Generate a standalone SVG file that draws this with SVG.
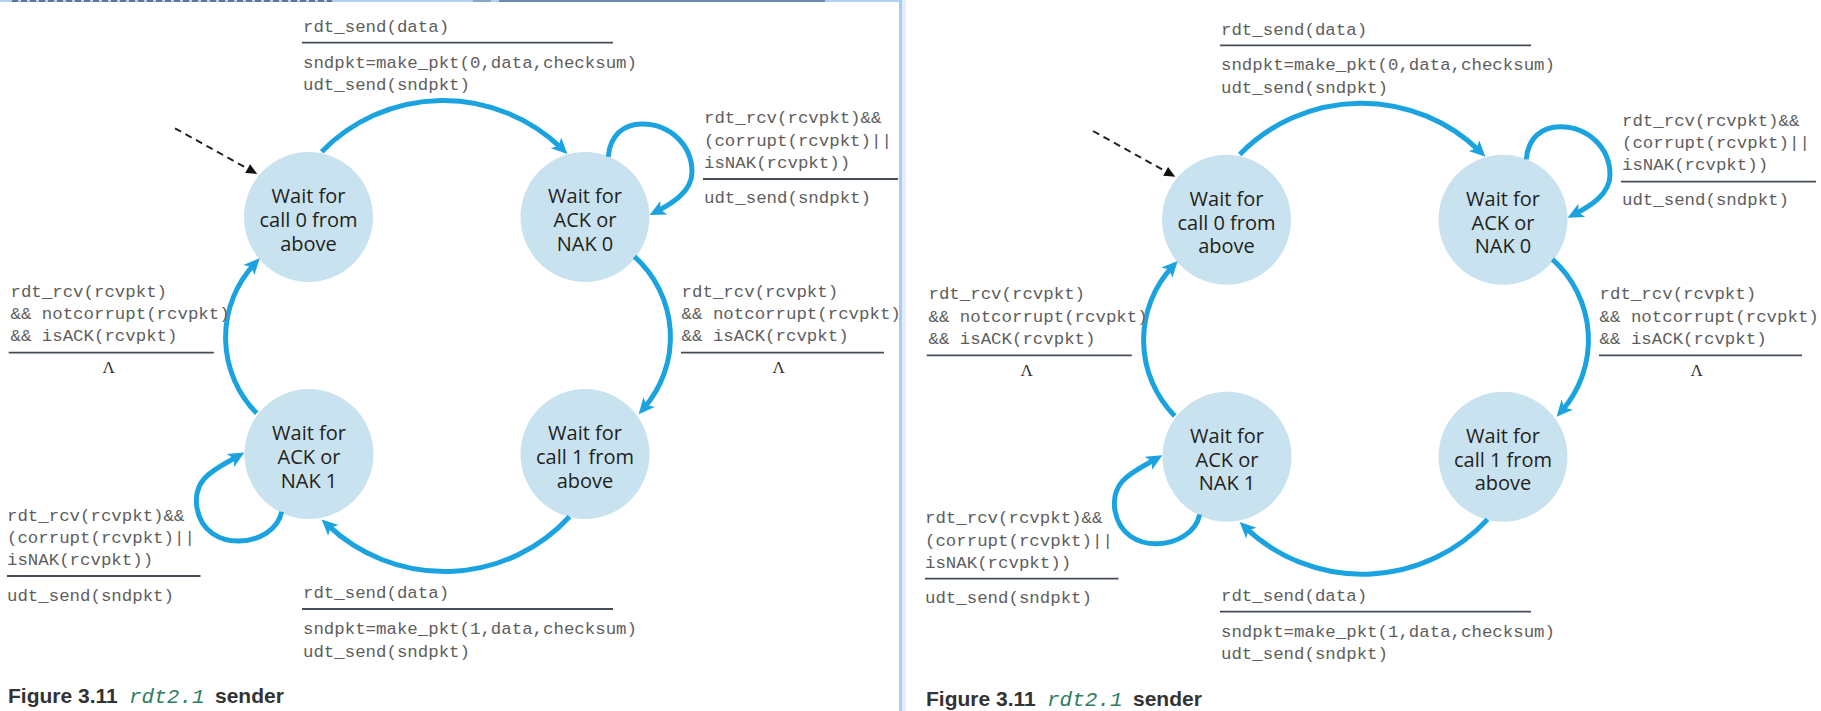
<svg xmlns="http://www.w3.org/2000/svg" width="1821" height="711" viewBox="0 0 1821 711">
<style>
.mono{font-family:"Liberation Mono",monospace;font-size:17.4px;fill:#5e5e5e}
.st{font-family:"Open Sans",sans-serif;font-size:20px;fill:#231f20;text-anchor:middle}
.node{fill:#c9e2ef}
.rule{stroke:#444c58;stroke-width:1.8}
.arc{fill:none;stroke:#1ba3e0;stroke-width:5}
.init{fill:none;stroke:#222;stroke-width:2;stroke-dasharray:7 5}
.lam{font-family:"Liberation Serif",serif;font-size:17px;fill:#333;text-anchor:middle}
.cap{font-family:"Liberation Sans",sans-serif;font-weight:bold;font-size:21px;fill:#333}
.capm{font-family:"Liberation Mono",monospace;font-style:italic;font-size:21px;fill:#2e7d60}
</style>
<defs>
<marker id="ah" markerUnits="userSpaceOnUse" markerWidth="17" markerHeight="15" refX="8" refY="7.5" orient="auto" overflow="visible"><path d="M0,0 L16,7.5 L0,15 L4,7.5 z" fill="#1ba3e0"/></marker>
<marker id="bh" markerUnits="userSpaceOnUse" markerWidth="12" markerHeight="10" refX="9" refY="5" orient="auto" overflow="visible"><path d="M0,0 L11,5 L0,10 z" fill="#111"/></marker>
</defs>
<rect width="1821" height="711" fill="#fff"/>
<g id="frame">
<rect x="0" y="0" width="902" height="2" fill="#b0d0f4"/>
<line x1="12" y1="1" x2="332" y2="1" stroke="#2b3a55" stroke-width="2" stroke-dasharray="6 3" opacity="0.6"/>
<rect x="473" y="0" width="18" height="2" fill="#8aa5c8"/>
<rect x="499" y="0" width="326" height="2" fill="#6c8ab0"/>
<rect x="899" y="0" width="3" height="711" fill="#aacbf2"/>
<rect x="902" y="0" width="4" height="711" fill="#e3eefb"/>
</g>

<g id="panel1">
<g id="p1-call0"><ellipse class="node" cx="308.5" cy="217" rx="64.5" ry="65"/><text class="st" x="308.5" y="203">Wait for</text><text class="st" x="308.5" y="227">call 0 from</text><text class="st" x="308.5" y="250.5">above</text></g>
<g id="p1-ack0"><ellipse class="node" cx="585" cy="217" rx="64.5" ry="65"/><text class="st" x="585" y="203">Wait for</text><text class="st" x="585" y="227">ACK or</text><text class="st" x="585" y="250.5">NAK 0</text></g>
<g id="p1-ack1"><ellipse class="node" cx="309" cy="454" rx="64.5" ry="65"/><text class="st" x="309" y="440">Wait for</text><text class="st" x="309" y="464">ACK or</text><text class="st" x="309" y="487.5">NAK 1</text></g>
<g id="p1-call1"><ellipse class="node" cx="585" cy="454" rx="64.5" ry="65"/><text class="st" x="585" y="440">Wait for</text><text class="st" x="585" y="464">call 1 from</text><text class="st" x="585" y="487.5">above</text></g>
<g id="p1-connectors">
<path class="init" d="M175,128.3 L255.5,173" marker-end="url(#bh)"/>
<path class="arc" d="M321.7,151.7 A170,170 0 0 1 561.7,148.4" marker-end="url(#ah)"/>
<path class="arc" d="M608.3,156.7 C610,135 624,124 642,124 C670,124 692,145 692,172 C692,192 671,204 656.7,211.4" marker-end="url(#ah)"/>
<path class="arc" d="M634.5,256.7 A108,108 0 0 1 643.9,408.1" marker-end="url(#ah)"/>
<path class="arc" d="M569.5,516.7 A170,170 0 0 1 327.5,524.9" marker-end="url(#ah)"/>
<path class="arc" d="M281.7,511.7 C274,548 205,555 197,508 C192,478 215.6,469 237.4,456.5" marker-end="url(#ah)"/>
<path class="arc" d="M256.7,413.3 A108,108 0 0 1 254.3,264.1" marker-end="url(#ah)"/>
</g>
<g id="p1-labels">
<text class="mono" x="303" y="32">rdt_send(data)</text>
<line class="rule" x1="302" y1="42.7" x2="613" y2="42.7"/>
<text class="mono" x="303" y="67.7">sndpkt=make_pkt(0,data,checksum)</text>
<text class="mono" x="303" y="90">udt_send(sndpkt)</text>

<text class="mono" x="704" y="123.3">rdt_rcv(rcvpkt)&amp;&amp;</text>
<text class="mono" x="704" y="145.7">(corrupt(rcvpkt)||</text>
<text class="mono" x="704" y="167.7">isNAK(rcvpkt))</text>
<line class="rule" x1="703" y1="179" x2="898" y2="179"/>
<text class="mono" x="704" y="202.7">udt_send(sndpkt)</text>

<text class="mono" x="681.6" y="296.7">rdt_rcv(rcvpkt)</text>
<text class="mono" x="681.6" y="319">&amp;&amp; notcorrupt(rcvpkt)</text>
<text class="mono" x="681.6" y="341.3">&amp;&amp; isACK(rcvpkt)</text>
<line class="rule" x1="681" y1="352.7" x2="884" y2="352.7"/>
<text class="lam" x="778.6" y="373">Λ</text>

<text class="mono" x="10.5" y="296.7">rdt_rcv(rcvpkt)</text>
<text class="mono" x="10.5" y="319">&amp;&amp; notcorrupt(rcvpkt)</text>
<text class="mono" x="10.5" y="341.3">&amp;&amp; isACK(rcvpkt)</text>
<line class="rule" x1="8.7" y1="352.7" x2="213.8" y2="352.7"/>
<text class="lam" x="108.7" y="373">Λ</text>

<text class="mono" x="7" y="520.7">rdt_rcv(rcvpkt)&amp;&amp;</text>
<text class="mono" x="7" y="543.3">(corrupt(rcvpkt)||</text>
<text class="mono" x="7" y="565">isNAK(rcvpkt))</text>
<line class="rule" x1="7" y1="576" x2="200.5" y2="576"/>
<text class="mono" x="7" y="600.7">udt_send(sndpkt)</text>

<text class="mono" x="303" y="598.3">rdt_send(data)</text>
<line class="rule" x1="302" y1="609" x2="613" y2="609"/>
<text class="mono" x="303" y="634">sndpkt=make_pkt(1,data,checksum)</text>
<text class="mono" x="303" y="656.7">udt_send(sndpkt)</text>

<text class="cap" x="8" y="703">Figure 3.11</text>
<text class="capm" x="129" y="703">rdt2.1</text>
<text class="cap" x="215" y="703">sender</text>
</g>
</g>

<g id="panel2" transform="translate(918,2.7)">
<g id="p2-call0"><ellipse class="node" cx="308.5" cy="217" rx="64.5" ry="65"/><text class="st" x="308.5" y="203">Wait for</text><text class="st" x="308.5" y="227">call 0 from</text><text class="st" x="308.5" y="250.5">above</text></g>
<g id="p2-ack0"><ellipse class="node" cx="585" cy="217" rx="64.5" ry="65"/><text class="st" x="585" y="203">Wait for</text><text class="st" x="585" y="227">ACK or</text><text class="st" x="585" y="250.5">NAK 0</text></g>
<g id="p2-ack1"><ellipse class="node" cx="309" cy="454" rx="64.5" ry="65"/><text class="st" x="309" y="440">Wait for</text><text class="st" x="309" y="464">ACK or</text><text class="st" x="309" y="487.5">NAK 1</text></g>
<g id="p2-call1"><ellipse class="node" cx="585" cy="454" rx="64.5" ry="65"/><text class="st" x="585" y="440">Wait for</text><text class="st" x="585" y="464">call 1 from</text><text class="st" x="585" y="487.5">above</text></g>
<g id="p2-connectors">
<path class="init" d="M175,128.3 L255.5,173" marker-end="url(#bh)"/>
<path class="arc" d="M321.7,151.7 A170,170 0 0 1 561.7,148.4" marker-end="url(#ah)"/>
<path class="arc" d="M608.3,156.7 C610,135 624,124 642,124 C670,124 692,145 692,172 C692,192 671,204 656.7,211.4" marker-end="url(#ah)"/>
<path class="arc" d="M634.5,256.7 A108,108 0 0 1 643.9,408.1" marker-end="url(#ah)"/>
<path class="arc" d="M569.5,516.7 A170,170 0 0 1 327.5,524.9" marker-end="url(#ah)"/>
<path class="arc" d="M281.7,511.7 C274,548 205,555 197,508 C192,478 215.6,469 237.4,456.5" marker-end="url(#ah)"/>
<path class="arc" d="M256.7,413.3 A108,108 0 0 1 254.3,264.1" marker-end="url(#ah)"/>
</g>
<g id="p2-labels">
<text class="mono" x="303" y="32">rdt_send(data)</text>
<line class="rule" x1="302" y1="42.7" x2="613" y2="42.7"/>
<text class="mono" x="303" y="67.7">sndpkt=make_pkt(0,data,checksum)</text>
<text class="mono" x="303" y="90">udt_send(sndpkt)</text>

<text class="mono" x="704" y="123.3">rdt_rcv(rcvpkt)&amp;&amp;</text>
<text class="mono" x="704" y="145.7">(corrupt(rcvpkt)||</text>
<text class="mono" x="704" y="167.7">isNAK(rcvpkt))</text>
<line class="rule" x1="703" y1="179" x2="898" y2="179"/>
<text class="mono" x="704" y="202.7">udt_send(sndpkt)</text>

<text class="mono" x="681.6" y="296.7">rdt_rcv(rcvpkt)</text>
<text class="mono" x="681.6" y="319">&amp;&amp; notcorrupt(rcvpkt)</text>
<text class="mono" x="681.6" y="341.3">&amp;&amp; isACK(rcvpkt)</text>
<line class="rule" x1="681" y1="352.7" x2="884" y2="352.7"/>
<text class="lam" x="778.6" y="373">Λ</text>

<text class="mono" x="10.5" y="296.7">rdt_rcv(rcvpkt)</text>
<text class="mono" x="10.5" y="319">&amp;&amp; notcorrupt(rcvpkt)</text>
<text class="mono" x="10.5" y="341.3">&amp;&amp; isACK(rcvpkt)</text>
<line class="rule" x1="8.7" y1="352.7" x2="213.8" y2="352.7"/>
<text class="lam" x="108.7" y="373">Λ</text>

<text class="mono" x="7" y="520.7">rdt_rcv(rcvpkt)&amp;&amp;</text>
<text class="mono" x="7" y="543.3">(corrupt(rcvpkt)||</text>
<text class="mono" x="7" y="565">isNAK(rcvpkt))</text>
<line class="rule" x1="7" y1="576" x2="200.5" y2="576"/>
<text class="mono" x="7" y="600.7">udt_send(sndpkt)</text>

<text class="mono" x="303" y="598.3">rdt_send(data)</text>
<line class="rule" x1="302" y1="609" x2="613" y2="609"/>
<text class="mono" x="303" y="634">sndpkt=make_pkt(1,data,checksum)</text>
<text class="mono" x="303" y="656.7">udt_send(sndpkt)</text>

<text class="cap" x="8" y="703">Figure 3.11</text>
<text class="capm" x="129" y="703">rdt2.1</text>
<text class="cap" x="215" y="703">sender</text>
</g>
</g>
</svg>
